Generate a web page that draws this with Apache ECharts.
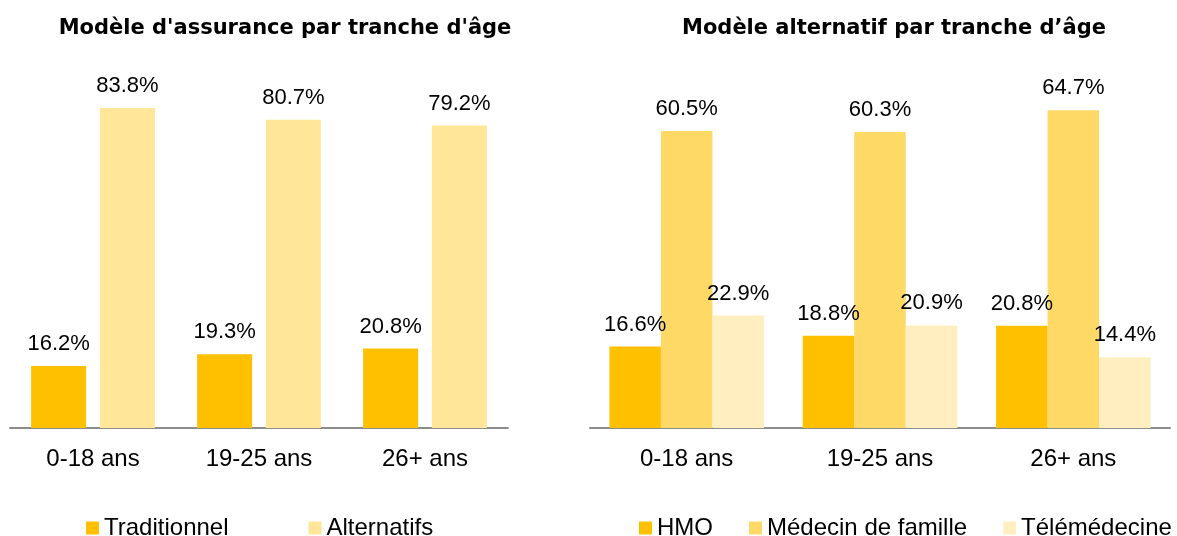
<html>
<head>
    <meta charset="utf-8">
    <script src="https://cdn.jsdelivr.net/npm/echarts@6/dist/echarts.min.js"></script>
</head>
<body style="margin:0">
<div id="main" style="width:1177px;height:536px"></div>
<script>
    // Data
    var ages = ['0-18 ans', '19-25 ans', '26+ ans'];
    var traditionnel = [16.2, 19.3, 20.8];
    var alternatifs = [83.8, 80.7, 79.2];
    var hmo = [16.6, 18.8, 20.8];
    var medecin = [60.5, 60.3, 64.7];
    var telemedecine = [22.9, 20.9, 14.4];

    var chart = echarts.init(document.getElementById('main'));

    var textFont = 'Liberation Sans';

    var valueLabel = {
        show: true,
        position: 'top',
        distance: 11,
        fontFamily: textFont,
        fontSize: 22,
        color: '#000',
        formatter: function (p) {
            return p.value.toFixed(1) + '%';
        }
    };

    var xAxisBase = {
        type: 'category',
        data: ages,
        axisTick: {show: false},
        axisLine: {lineStyle: {color: '#8c8c8c', width: 2}},
        axisLabel: {
            margin: 19,
            fontFamily: textFont,
            fontSize: 24,
            color: '#000'
        }
    };

    var titleStyle = {
        fontFamily: 'DejaVu Sans',
        fontWeight: 'bold',
        fontSize: 21,
        color: '#000'
    };

    var legendText = {fontFamily: textFont, fontSize: 24, color: '#000'};

    function bar(name, data, color, idx, width, gap) {
        return {
            name: name,
            type: 'bar',
            xAxisIndex: idx,
            yAxisIndex: idx,
            data: data,
            barWidth: width,
            barGap: gap,
            itemStyle: {color: color},
            label: valueLabel
        };
    }

    var option = {
        animation: false,
        title: [{
            text: "Modèle d'assurance par tranche d'âge",
            left: 280,
            top: 13,
            textAlign: 'center',
            textStyle: titleStyle
        }, {
            text: 'Modèle alternatif par tranche d’âge',
            left: 889,
            top: 13,
            textAlign: 'center',
            textStyle: titleStyle
        }],
        legend: [{
            data: ['Traditionnel', 'Alternatifs'],
            left: 86,
            top: 516,
            width: 400,
            padding: 0,
            itemWidth: 13,
            itemHeight: 13,
            itemGap: 80,
            icon: 'rect',
            textStyle: legendText
        }, {
            data: ['HMO', 'Médecin de famille', 'Télémédecine'],
            left: 639,
            top: 516,
            width: 538,
            padding: 0,
            itemWidth: 13,
            itemHeight: 13,
            itemGap: 36,
            icon: 'rect',
            textStyle: legendText
        }],
        grid: [
            {left: 10, width: 498, top: 46, bottom: 108},
            {left: 590, width: 580, top: 35.2, bottom: 108}
        ],
        xAxis: [
            Object.assign({gridIndex: 0}, xAxisBase),
            Object.assign({gridIndex: 1}, xAxisBase)
        ],
        yAxis: [
            {gridIndex: 0, type: 'value', min: 0, max: 100, show: false},
            {gridIndex: 1, type: 'value', min: 0, max: 80, show: false}
        ],
        series: [
            bar('Traditionnel', traditionnel, '#FFC000', 0, 55, '25%'),
            bar('Alternatifs', alternatifs, '#FFE699', 0, 55, '25%'),
            bar('HMO', hmo, '#FFC000', 1, 51.5, '0%'),
            bar('Médecin de famille', medecin, '#FFD966', 1, 51.5, '0%'),
            bar('Télémédecine', telemedecine, '#FFEFC0', 1, 51.5, '0%')
        ]
    };

    chart.setOption(option);
</script>
</body>
</html>
